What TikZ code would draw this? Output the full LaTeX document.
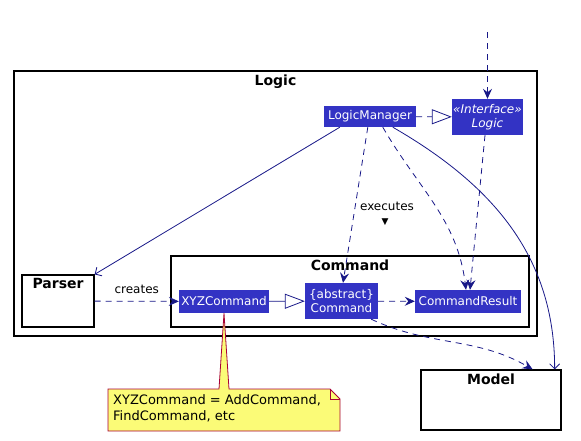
\documentclass[tikz,border=0pt]{standalone}
\usepackage{fontspec}
\setmainfont{DejaVu Sans}
\usepackage{tikz}
\usetikzlibrary{positioning, arrows.meta, shapes, backgrounds, fit, shadows}
\usepackage{xcolor}
\definecolor{classblue}{RGB}{51, 51, 196}
\definecolor{linenavy}{RGB}{24, 24, 136}
\definecolor{noteyellow}{RGB}{251, 251, 119}
\definecolor{notered}{RGB}{168, 0, 54}

\begin{document}
\begin{tikzpicture}[
        x=1pt, y=-1pt,
        frame/.style={draw=black, line width=1.3pt, fill=white, inner sep=0pt, drop shadow={shadow xshift=1pt, shadow yshift=-1pt, fill=black!25, opacity=1}},
        title/.style={font=\fontsize{14}{16}\selectfont\bfseries, inner sep=0pt},
        cls/.style={fill=classblue, text=white, font=\fontsize{12}{14}\selectfont, inner sep=0pt, align=center},
        lbl/.style={font=\fontsize{12}{14}\selectfont, inner sep=0pt},
        dep/.style={draw=linenavy, line width=0.8pt, dash pattern=on 6pt off 5pt, -{Stealth[length=10pt, width=9pt, inset=3.5pt]}},
        assoc/.style={draw=linenavy, line width=0.8pt, -{Straight Barb[length=5pt, width=10pt]}},
        impl/.style={draw=linenavy, line width=0.8pt, -{Triangle[open, length=20pt, width=15pt, fill=white]}}
    ]
        \useasboundingbox (0,0) rectangle (581,440);

        % packages
        \node[frame, minimum width=523pt, minimum height=265pt] (logic) at (275.5,203.5) {};
        \node[title, below=4pt of logic.north] (logictitle) {Logic};
        \node[frame, minimum width=358pt, minimum height=71pt] (cmdpkg) at (350,291.5) {};
        \node[title, below=4pt of cmdpkg.north] (cmdtitle) {Command};
        \node[frame, minimum width=72pt, minimum height=52pt] (parser) at (58,301) {};
        \node[title, below=4pt of parser.north] (parsertitle) {Parser};
        \node[frame, minimum width=140pt, minimum height=60pt] (model) at (491,400) {};
        \node[title, below=4pt of model.north] (modeltitle) {Model};

        % classes
        \node[cls, minimum width=92pt, minimum height=21pt] (lm) at (370,116.5) {LogicManager};
        \node[cls, minimum width=71pt, minimum height=36pt, font=\fontsize{12}{14}\selectfont\itshape] (ilogic) at (487.5,117) {«Interface»\\Logic};
        \node[cls, minimum width=90pt, minimum height=23pt] (xyz) at (224,301.5) {XYZCommand};
        \node[cls, minimum width=73pt, minimum height=36pt] (acmd) at (341.5,301) {\{abstract\}\\Command};
        \node[cls, minimum width=106pt, minimum height=23pt] (cres) at (468,301.5) {CommandResult};
        \coordinate (top) at (487.5,32);

        % connectors
        \draw[dep] (top) -- (ilogic);
        \draw[impl, dash pattern=on 6pt off 5pt] (lm) -- (ilogic);
        \draw[impl] (xyz) -- (acmd);
        \draw[dep] (acmd) -- (cres);
        \draw[dep] (parser) -- node[lbl, above=7pt] (createslbl) {creates} (xyz);
        \draw[assoc] ([xshift=16pt]lm.south west) -- (parser.north east);
        \draw[dep] ([xshift=44pt]lm.south west) -- ([xshift=1.5pt]acmd.north);
        \node[lbl] (execlbl) at (387,206) {executes};
        \node[lbl, font=\fontsize{9}{9}\selectfont] (execarrow) at (385,222.5) {▼};
        \draw[dep] ([xshift=59pt]lm.south west) to[out=-60, in=97] ([xshift=-2pt]cres.north);
        \draw[dep] ([xshift=-2.5pt]ilogic.south) -- ([xshift=2pt]cres.north);
        \draw[assoc] ([xshift=69pt]lm.south west) to[out=-30, in=90] ([xshift=-7pt]model.north east);
        \draw[dep] ([xshift=-7pt]acmd.south east) to[out=-25, in=150] ([xshift=-29pt]model.north east);

        % note
        \draw[fill=noteyellow, draw=notered, line width=0.8pt] (108,389) -- (219,389) -- (xyz.south) -- (229,389) -- (330,389) -- (340,399) -- (340,431) -- (108,431) -- cycle;
        \draw[draw=notered, line width=0.8pt] (330,389) -- (330,399) -- (340,399);
        \node[lbl, font=\fontsize{13}{15.5}\selectfont, align=left, anchor=north west] (note) at (113,394.6) {XYZCommand = AddCommand,\\FindCommand, etc};
    \end{tikzpicture}
\end{document}
